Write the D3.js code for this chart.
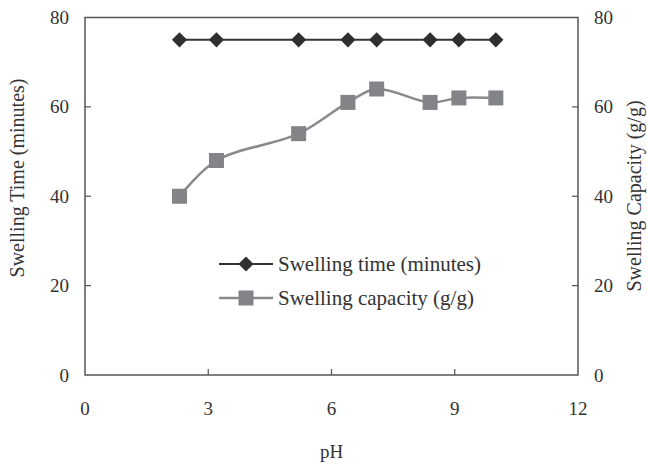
<!DOCTYPE html>
<html>
<head>
<meta charset="utf-8">
<title>Swelling vs pH</title>
<script src="https://cdn.jsdelivr.net/npm/d3@7"></script>
<style>
  body { margin: 0; background: #fff; }
  text { font-family: "Liberation Serif", "Times New Roman", serif; fill: #333; }
</style>
</head>
<body>
<svg width="647" height="465"></svg>
<script>
// values
var ph = [2.3, 3.2, 5.2, 6.4, 7.1, 8.4, 9.1, 10];
var swellTime = [75, 75, 75, 75, 75, 75, 75, 75];
var swellCap = [40, 48, 54, 61, 64, 61, 62, 62];
var xTicks = [0, 3, 6, 9, 12];
var yTicks = [0, 20, 40, 60, 80];

var svg = d3.select('svg');
var pLeft = 85, pRight = 578, pTop = 17.5, pBottom = 375;

var x = d3.scaleLinear().domain([0, 12]).range([pLeft, pRight]);
var yL = d3.scaleLinear().domain([0, 80]).range([pBottom, pTop]);
var yR = d3.scaleLinear().domain([0, 80]).range([pBottom, pTop]);

// frame
svg.append('rect')
  .attr('x', pLeft).attr('y', pTop)
  .attr('width', pRight - pLeft).attr('height', pBottom - pTop)
  .style('fill', 'none').style('stroke', '#555').style('stroke-width', 1.5);

// ticks (inward)
svg.selectAll('xt').data(xTicks.slice(1, -1)).enter().append('line')
  .attr('x1', function(d){ return x(d); }).attr('x2', function(d){ return x(d); })
  .attr('y1', pBottom).attr('y2', pBottom - 6)
  .style('stroke', '#555').style('stroke-width', 1.2);
svg.selectAll('ylt').data(yTicks.slice(1, -1)).enter().append('line')
  .attr('x1', pLeft).attr('x2', pLeft + 6)
  .attr('y1', function(d){ return yL(d); }).attr('y2', function(d){ return yL(d); })
  .style('stroke', '#555').style('stroke-width', 1.2);
svg.selectAll('yrt').data(yTicks.slice(1, -1)).enter().append('line')
  .attr('x1', pRight).attr('x2', pRight - 6)
  .attr('y1', function(d){ return yR(d); }).attr('y2', function(d){ return yR(d); })
  .style('stroke', '#555').style('stroke-width', 1.2);

// tick labels
svg.selectAll('xl').data(xTicks).enter().append('text')
  .text(function(d){ return d; })
  .attr('x', function(d){ return x(d); }).attr('y', 415)
  .attr('text-anchor', 'middle').attr('font-size', '19px');
svg.selectAll('yll').data(yTicks).enter().append('text')
  .text(function(d){ return d; })
  .attr('x', 69).attr('y', function(d){ return yL(d) + 6.5; })
  .attr('text-anchor', 'end').attr('font-size', '19px');
svg.selectAll('yrl').data(yTicks).enter().append('text')
  .text(function(d){ return d; })
  .attr('x', 594).attr('y', function(d){ return yR(d) + 6.5; })
  .attr('text-anchor', 'start').attr('font-size', '19px');

// axis titles
svg.append('text').text('pH')
  .attr('x', x(6)).attr('y', 458)
  .attr('text-anchor', 'middle').attr('font-size', '19px');
svg.append('text').text('Swelling Time (minutes)')
  .attr('transform', 'translate(24,178) rotate(-90)')
  .attr('text-anchor', 'middle').attr('font-size', '20px');
svg.append('text').text('Swelling Capacity (g/g)')
  .attr('transform', 'translate(641,196) rotate(-90)')
  .attr('text-anchor', 'middle').attr('font-size', '20px');

var timeData = ph.map(function(p, i){ return [p, swellTime[i]]; });
var capData = ph.map(function(p, i){ return [p, swellCap[i]]; });

// swelling capacity (gray, smoothed)
svg.append('path')
  .datum(capData)
  .attr('d', d3.line().curve(d3.curveCatmullRom.alpha(0.5))
    .x(function(d){ return x(d[0]); }).y(function(d){ return yR(d[1]); }))
  .style('fill', 'none').style('stroke', '#888a8c').style('stroke-width', 2.5);
svg.selectAll('sq').data(capData).enter().append('rect')
  .attr('x', function(d){ return x(d[0]) - 7.5; })
  .attr('y', function(d){ return yR(d[1]) - 7.5; })
  .attr('width', 15).attr('height', 15)
  .style('fill', '#838487');

// swelling time (dark, diamonds)
svg.append('path')
  .datum(timeData)
  .attr('d', d3.line()
    .x(function(d){ return x(d[0]); }).y(function(d){ return yL(d[1]); }))
  .style('fill', 'none').style('stroke', '#333').style('stroke-width', 2);
var diamond = d3.symbol().type(d3.symbolSquare).size(115);
svg.selectAll('dm').data(timeData).enter().append('path')
  .attr('d', diamond)
  .attr('transform', function(d){ return 'translate(' + x(d[0]) + ',' + yL(d[1]) + ') rotate(45)'; })
  .style('fill', '#2f2f2f');

// legend
var legY = [264, 298];
svg.append('line').attr('x1', 219).attr('x2', 273).attr('y1', legY[0]).attr('y2', legY[0])
  .style('stroke', '#333').style('stroke-width', 2);
svg.append('path').attr('d', diamond)
  .attr('transform', 'translate(246,' + legY[0] + ') rotate(45)')
  .style('fill', '#2f2f2f');
svg.append('text').text('Swelling time (minutes)')
  .attr('x', 278).attr('y', legY[0] + 6.5).attr('font-size', '21px');

svg.append('line').attr('x1', 219).attr('x2', 273).attr('y1', legY[1]).attr('y2', legY[1])
  .style('stroke', '#888a8c').style('stroke-width', 2.5);
svg.append('rect').attr('x', 238.5).attr('y', legY[1] - 7.5)
  .attr('width', 15).attr('height', 15).style('fill', '#838487');
svg.append('text').text('Swelling capacity (g/g)')
  .attr('x', 278).attr('y', legY[1] + 6.5).attr('font-size', '21px');
</script>
</body>
</html>
